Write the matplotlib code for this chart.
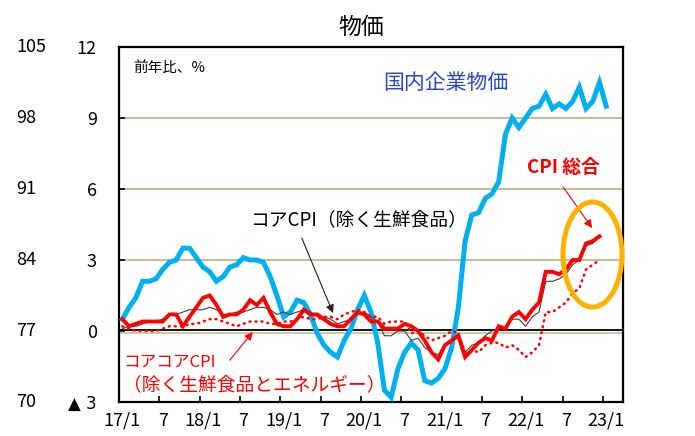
import matplotlib
matplotlib.use("Agg")
import matplotlib.pyplot as plt
from matplotlib.patches import Ellipse
from matplotlib.transforms import blended_transform_factory
import numpy as np

plt.rcParams['font.family'] = ['Noto Sans CJK JP', 'DejaVu Sans']

# 月次データ 17/1 ～ (前年比、%)
cgpi = [0.5, 1.0, 1.4, 2.1, 2.1, 2.2, 2.6, 2.9, 3.0, 3.5, 3.5, 3.1,
        2.7, 2.5, 2.1, 2.3, 2.7, 2.8, 3.1, 3.0, 3.0, 2.9, 2.3, 1.5,
        0.6, 0.8, 1.3, 1.2, 0.7, -0.1, -0.6, -0.9, -1.1, -0.4, 0.1, 0.9,
        1.5, 0.8, -0.5, -2.5, -2.8, -1.6, -0.9, -0.5, -0.8, -2.1, -2.2, -2.0,
        -1.6, -0.7, 1.0, 3.8, 4.9, 5.0, 5.6, 5.8, 6.3, 8.3, 9.0, 8.6,
        9.0, 9.4, 9.5, 10.0, 9.4, 9.6, 9.4, 9.7, 10.3, 9.4, 9.7, 10.5,
        9.5]
cpi_all = [0.5, 0.2, 0.3, 0.4, 0.4, 0.4, 0.4, 0.7, 0.7, 0.2, 0.6, 1.0,
           1.4, 1.5, 1.1, 0.6, 0.7, 0.7, 0.9, 1.3, 1.1, 1.4, 0.8, 0.3,
           0.2, 0.2, 0.5, 0.9, 0.7, 0.7, 0.5, 0.3, 0.2, 0.2, 0.5, 0.8,
           0.7, 0.4, 0.4, 0.1, 0.1, 0.1, 0.3, 0.2, 0.0, -0.4, -0.9, -1.2,
           -0.6, -0.4, -0.2, -1.1, -0.8, -0.5, -0.3, -0.4, 0.2, 0.1, 0.6, 0.8,
           0.5, 0.9, 1.2, 2.5, 2.5, 2.4, 2.6, 3.0, 3.0, 3.7, 3.8, 4.0]
cpi_core = [0.1, 0.2, 0.2, 0.3, 0.4, 0.4, 0.5, 0.7, 0.7, 0.8, 0.9, 0.9,
            0.9, 1.0, 0.9, 0.7, 0.7, 0.8, 0.8, 0.9, 1.0, 1.0, 0.9, 0.7,
            0.8, 0.7, 0.8, 0.9, 0.8, 0.6, 0.6, 0.5, 0.3, 0.4, 0.5, 0.7,
            0.8, 0.6, 0.4, -0.2, -0.2, 0.0, 0.0, -0.4, -0.3, -0.7, -0.9, -1.0,
            -0.6, -0.4, -0.1, -0.9, -0.6, -0.5, -0.2, 0.0, 0.1, 0.1, 0.5, 0.5,
            0.2, 0.6, 0.8, 2.1, 2.1, 2.2, 2.4, 2.8, 3.0, 3.6, 3.7, 4.0]
cpi_corecore = [0.2, 0.1, 0.0, 0.0, 0.0, 0.0, 0.1, 0.2, 0.2, 0.2, 0.3, 0.3,
                0.4, 0.5, 0.5, 0.4, 0.3, 0.2, 0.3, 0.4, 0.4, 0.4, 0.3, 0.3,
                0.4, 0.4, 0.5, 0.6, 0.5, 0.5, 0.6, 0.6, 0.5, 0.7, 0.8, 0.9,
                0.8, 0.6, 0.6, 0.3, 0.4, 0.4, 0.4, -0.1, 0.0, -0.2, -0.4, -0.3,
                -0.2, 0.0, -0.1, -0.9, -0.8, -0.9, -0.6, -0.5, -0.5, -0.7, -0.6, -0.8,
                -1.1, -0.9, -0.6, 0.8, 0.8, 1.0, 1.2, 1.6, 1.8, 2.6, 2.8, 3.0]

tick_labels = ['17/1', '7', '18/1', '7', '19/1', '7', '20/1', '7',
               '21/1', '7', '22/1', '7', '23/1']
y_ticks = [12, 9, 6, 3, 0, -3]
y_labels = ['12', '9', '6', '3', '0', '▲ 3']
y_labels_outer = ['105', '98', '91', '84', '77', '70']

fig = plt.figure(figsize=(6.95, 4.36), dpi=100)
ax = fig.add_axes([119 / 695, 1 - 402 / 436, 504 / 695, 355 / 436])

# 各月はカテゴリの中央に描く
x_cgpi = np.arange(len(cgpi)) + 0.5
x_cpi = np.arange(len(cpi_all)) + 0.5

for g in [3, 6, 9]:
    ax.axhline(g, color='#C4BD97', lw=1.5, zorder=1)
ax.axhline(-0.1, color='#C4BD97', lw=1.2, zorder=1)
ax.axhline(0.05, color='black', lw=1.3, zorder=2)

ax.plot(x_cgpi, cgpi, color='#00B0F0', lw=3.6, zorder=3, solid_joinstyle='miter')
ax.plot(x_cpi, cpi_core, color='#404040', lw=0.8, zorder=4)
ax.plot(x_cpi, cpi_corecore, color='#FF0000', lw=1.8, linestyle=(0, (0.4, 2.0)),
        dash_capstyle='round', zorder=4)
ax.plot(x_cpi, cpi_all, color='#FF0000', lw=2.8, zorder=5, solid_joinstyle='miter')

ax.set_xlim(0, 75)
ax.set_ylim(-3, 12)

ax.set_xticks(np.arange(0, 73, 6))
ax.set_xticklabels([])
ax.set_xticks(np.arange(0, 73, 6) + 0.5, minor=True)
ax.set_xticklabels(tick_labels, minor=True, fontsize=13)
ax.tick_params(axis='x', which='major', direction='in', length=4, width=1.2)
ax.tick_params(axis='x', which='minor', length=0, pad=7)

ax.set_yticks(y_ticks)
ax.set_yticklabels(y_labels, fontsize=13)
ax.get_yticklabels()[-1].set_fontfamily(['DejaVu Sans'])
ax.get_yticklabels()[-1].set_fontsize(12)
ax.tick_params(axis='y', direction='in', length=4, width=1.2, pad=16)

trans = blended_transform_factory(fig.transFigure, ax.transData)
for v, lab in zip(y_ticks, y_labels_outer):
    fig.text(16 / 695, v, lab, transform=trans, fontsize=13, ha='left', va='center')

for sp in ax.spines.values():
    sp.set_linewidth(1.6)
    sp.set_color('black')

fig.text(361 / 695, 1 - 27 / 436, '物価', fontsize=16.5, ha='center', va='center')

ax.text(2.1, 11.1, '前年比、%', fontsize=10.5, ha='left', va='center')
ax.text(39.3, 10.5, '国内企業物価', fontsize=15, color='#2848C8', ha='left', va='center')
ax.text(60.7, 6.9, 'CPI 総合', fontsize=13.5, color='#FF0000', fontweight='bold',
        ha='left', va='center')
ax.text(19.5, 4.7, 'コアCPI（除く生鮮食品）', fontsize=13.5, ha='left', va='center')
ax.text(0.6, -1.31, 'コアコアCPI', fontsize=12, color='#FF0000', ha='left', va='center')
ax.text(0.6, -2.28, '（除く生鮮食品とエネルギー）', fontsize=13.5, color='#FF0000',
        ha='left', va='center')

ax.annotate('', xy=(31.85, 0.76), xytext=(27.2, 3.93),
            arrowprops=dict(arrowstyle='-|>', color='#202020', lw=0.8,
                            mutation_scale=12, shrinkA=0, shrinkB=0))
ax.annotate('', xy=(19.9, -0.04), xytext=(16.5, -1.23),
            arrowprops=dict(arrowstyle='-|>', color='#FF0000', lw=0.8,
                            mutation_scale=12, shrinkA=0, shrinkB=0))
ax.annotate('', xy=(70.4, 4.35), xytext=(66.1, 6.08),
            arrowprops=dict(arrowstyle='-|>', color='#FF0000', lw=0.8,
                            mutation_scale=12, shrinkA=0, shrinkB=0))

ax.add_patch(Ellipse((70.46, 3.23), 8.78, 4.44, fill=False, edgecolor='#FFB000',
                     lw=3.6, zorder=6, clip_on=False))

fig.savefig('out.png', dpi=100)
